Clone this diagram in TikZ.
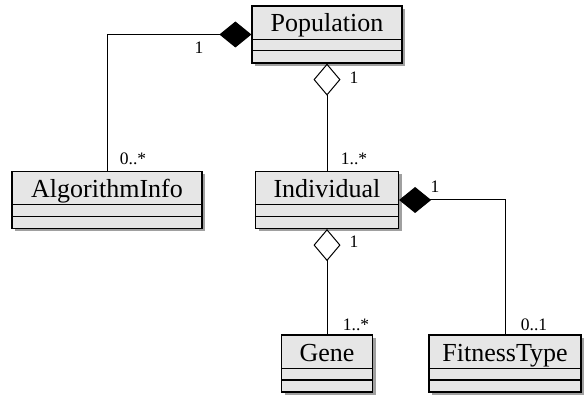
\documentclass[tikz,border=0pt]{standalone}
\usepackage{fontspec}
\setmainfont{Liberation Serif}
\usetikzlibrary{positioning,arrows.meta,shadows}
\definecolor{classfill}{RGB}{230,230,230}
\definecolor{shadegray}{RGB}{160,160,160}
\newcommand{\classfont}{\fontsize{26}{30}\selectfont}
\newcommand{\multfont}{\fontsize{17.5}{20}\selectfont}

\begin{document}
\begin{tikzpicture}[
  x=1pt, y=-1pt,
  umlclass/.style={draw, line width=1.2pt, fill=classfill, font=\classfont,
    inner ysep=0pt, text height=26pt, text depth=31pt,
    drop shadow={shadow xshift=3pt, shadow yshift=-3pt, fill=shadegray, opacity=1}},
  divline/.style={line width=1.2pt},
  mult/.style={font=\multfont, inner sep=0pt},
  compo/.style={-{Diamond[length=32pt, width=26pt]}, line width=1pt},
  aggr/.style={-{Diamond[open, length=32pt, width=27pt]}, line width=1pt}
]
\useasboundingbox (0,0) rectangle (584,398);
\node[umlclass, minimum width=150pt] (pop) at (327,34.5) {Population};
\node[umlclass, minimum width=190pt] (algo) at (107,200) {AlgorithmInfo};
\node[umlclass, minimum width=143pt] (ind) at (327,200) {Individual};
\node[umlclass, minimum width=91pt] (gene) at (327,363.5) {Gene};
\node[umlclass, minimum width=152pt] (fit) at (505,363.5) {FitnessType};
% attribute and operation compartments
\foreach \c in {pop,algo,ind,gene,fit} {
  \draw[divline] ([yshift=-34pt]\c.north west) -- ([yshift=-34pt]\c.north east);
  \draw[divline] ([yshift=-45.5pt]\c.north west) -- ([yshift=-45.5pt]\c.north east);
}
% associations
\draw[compo] (algo.north) |- (pop.west);
\draw[aggr] (ind.north) -- (pop.south);
\draw[compo] (fit.north) |- (ind.east);
\draw[aggr] (gene.north) -- (ind.south);
% multiplicities
\node[mult] (m1) at (199,48) {1};
\node[mult] (m2) at (133,159) {0..*};
\node[mult] (m3) at (354,78) {1};
\node[mult] (m4) at (354,159) {1..*};
\node[mult] (m5) at (435,187) {1};
\node[mult] (m6) at (354,242) {1};
\node[mult] (m7) at (356,325) {1..*};
\node[mult] (m8) at (534,325) {0..1};
\end{tikzpicture}
\end{document}
